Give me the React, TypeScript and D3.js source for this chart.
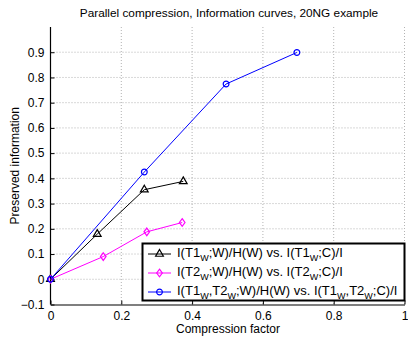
import * as d3 from 'd3';
import React, { useEffect, useRef } from 'react';

// values
const t1X = [0, 0.132, 0.265, 0.375];
const t1Y = [0, 0.179, 0.355, 0.388];
const t2X = [0, 0.149, 0.272, 0.372];
const t2Y = [0, 0.09, 0.188, 0.225];
const t12X = [0, 0.265, 0.496, 0.696];
const t12Y = [0, 0.425, 0.774, 0.899];

const xTicks = [0, 0.2, 0.4, 0.6, 0.8, 1];
const yTicks = [-0.1, 0, 0.1, 0.2, 0.3, 0.4, 0.5, 0.6, 0.7, 0.8, 0.9];

// legend labels as [text, isSubscript] pieces
const legendT1: [string, boolean][] = [['I(T1', false], ['W', true], [';W)/H(W) vs. I(T1', false], ['W', true], [';C)/I', false]];
const legendT2: [string, boolean][] = [['I(T2', false], ['W', true], [';W)/H(W) vs. I(T2', false], ['W', true], [';C)/I', false]];
const legendT12: [string, boolean][] = [
    ['I(T1', false], ['W', true], [',T2', false], ['W', true], [';W)/H(W) vs. I(T1', false],
    ['W', true], [',T2', false], ['W', true], [';C)/I', false],
];

const font = 'Liberation Sans, Arial, sans-serif';

export default () => {
    const ref = useRef<any>();

    useEffect(() => {
        const dims = { width: 408, height: 337, left: 50.5, right: 404.5, top: 27, bottom: 304.5 };

        const svg = d3.select<any, any>(ref.current);
        svg.selectAll('*').remove();

        const x = d3.scaleLinear().domain([0, 1]).range([dims.left, dims.right]);
        const y = d3.scaleLinear().domain([-0.1, 1.0]).range([dims.bottom, dims.top]);

        svg.append('rect').attr('width', dims.width).attr('height', dims.height).attr('fill', 'white');

        // dotted grid
        const grid = svg.append('g').attr('stroke', '#a0a0a0').attr('stroke-width', 0.8).attr('stroke-dasharray', '1,2');
        xTicks.filter((d) => d > 0).forEach((d) => {
            grid.append('line').attr('x1', x(d)).attr('x2', x(d)).attr('y1', dims.top).attr('y2', dims.bottom);
        });
        yTicks.filter((d) => d > -0.1).forEach((d) => {
            grid.append('line').attr('x1', dims.left).attr('x2', dims.right).attr('y1', y(d)).attr('y2', y(d));
        });

        // axes, ticks pointing inward
        const xAxis = d3.axisBottom(x).tickValues(xTicks).tickSizeInner(-4).tickSizeOuter(0).tickPadding(7)
            .tickFormat((d: any) => d3.format('~g')(d));
        const yAxis = d3.axisLeft(y).tickValues(yTicks).tickSizeInner(-4).tickSizeOuter(0).tickPadding(6)
            .tickFormat((d: any) => (d < 0 ? '\u22120.1' : d3.format('~g')(d)));

        const gx = svg.append('g').attr('transform', `translate(0,${dims.bottom})`).call(xAxis as any);
        const gy = svg.append('g').attr('transform', `translate(${dims.left},0)`).call(yAxis as any);
        [gx, gy].forEach((g) => {
            g.select('.domain').attr('stroke', 'black').attr('stroke-width', 1.2);
            g.selectAll('.tick line').attr('stroke', 'black');
            g.selectAll('.tick text').attr('fill', 'black').attr('font-family', font).attr('font-size', 12);
        });
        gy.select('.domain').attr('d', `M0,${dims.bottom}V${dims.top}`);

        const line = d3.line<[number, number]>().x((d) => x(d[0])).y((d) => y(d[1]));
        const series = [
            { xs: t1X, ys: t1Y, color: 'black', marker: 'triangle', label: legendT1 },
            { xs: t2X, ys: t2Y, color: '#ff00ff', marker: 'diamond', label: legendT2 },
            { xs: t12X, ys: t12Y, color: '#0000ff', marker: 'circle', label: legendT12 },
        ];

        const markerPath = (kind: string) => {
            if (kind === 'triangle') return d3.symbol(d3.symbolTriangle, 26)();
            if (kind === 'diamond') return 'M0,-3.8L2.8,0L0,3.8L-2.8,0Z';
            return d3.symbol(d3.symbolCircle, 26)();
        };

        series.forEach((s) => {
            const pts: [number, number][] = s.xs.map((v, i) => [v, s.ys[i]]);
            svg.append('path').attr('d', line(pts)).attr('fill', 'none').attr('stroke', s.color).attr('stroke-width', 1);
            svg.append('g').selectAll('path').data(pts).join('path')
                .attr('d', markerPath(s.marker))
                .attr('transform', (d) => `translate(${x(d[0])},${y(d[1])})`)
                .attr('fill', 'none').attr('stroke', s.color).attr('stroke-width', 1.2);
        });

        // legend
        const lg = svg.append('g');
        lg.append('rect').attr('x', 142.5).attr('y', 243.5).attr('width', 262).attr('height', 57)
            .attr('fill', 'white').attr('stroke', 'black').attr('stroke-width', 2);
        series.forEach((s, i) => {
            const cy = 254 + i * 19;
            lg.append('line').attr('x1', 148).attr('x2', 171).attr('y1', cy).attr('y2', cy).attr('stroke', s.color);
            lg.append('path').attr('d', markerPath(s.marker)).attr('transform', `translate(159.5,${cy})`)
                .attr('fill', 'none').attr('stroke', s.color).attr('stroke-width', 1.2);
            const t = lg.append('text').attr('x', 177).attr('y', cy + 3).attr('font-family', font).attr('font-size', 13).attr('fill', 'black');
            s.label.forEach(([txt, sub], j) => {
                const prev = j > 0 ? s.label[j - 1] : null;
                const sp = t.append('tspan').text(txt);
                if (sub) sp.attr('font-size', 9).attr('dy', 4);
                else sp.attr('dy', prev && prev[1] ? -4 : 0);
            });
        });

        // title and axis labels
        svg.append('text').attr('x', 229).attr('y', 17).attr('text-anchor', 'middle').attr('font-family', font)
            .attr('font-size', 11.8).text('Parallel compression, Information curves, 20NG example');
        svg.append('text').attr('x', 228).attr('y', 333).attr('text-anchor', 'middle').attr('font-family', font)
            .attr('font-size', 12).text('Compression factor');
        svg.append('text').attr('transform', `translate(19,${(dims.top + dims.bottom) / 2}) rotate(-90)`)
            .attr('text-anchor', 'middle').attr('font-family', font).attr('font-size', 12).text('Preserved information');
    });

    return (
        <svg ref={ref} width={408} height={337} style={{ position: 'absolute', left: 0, top: 0 }}></svg>
    );
};
